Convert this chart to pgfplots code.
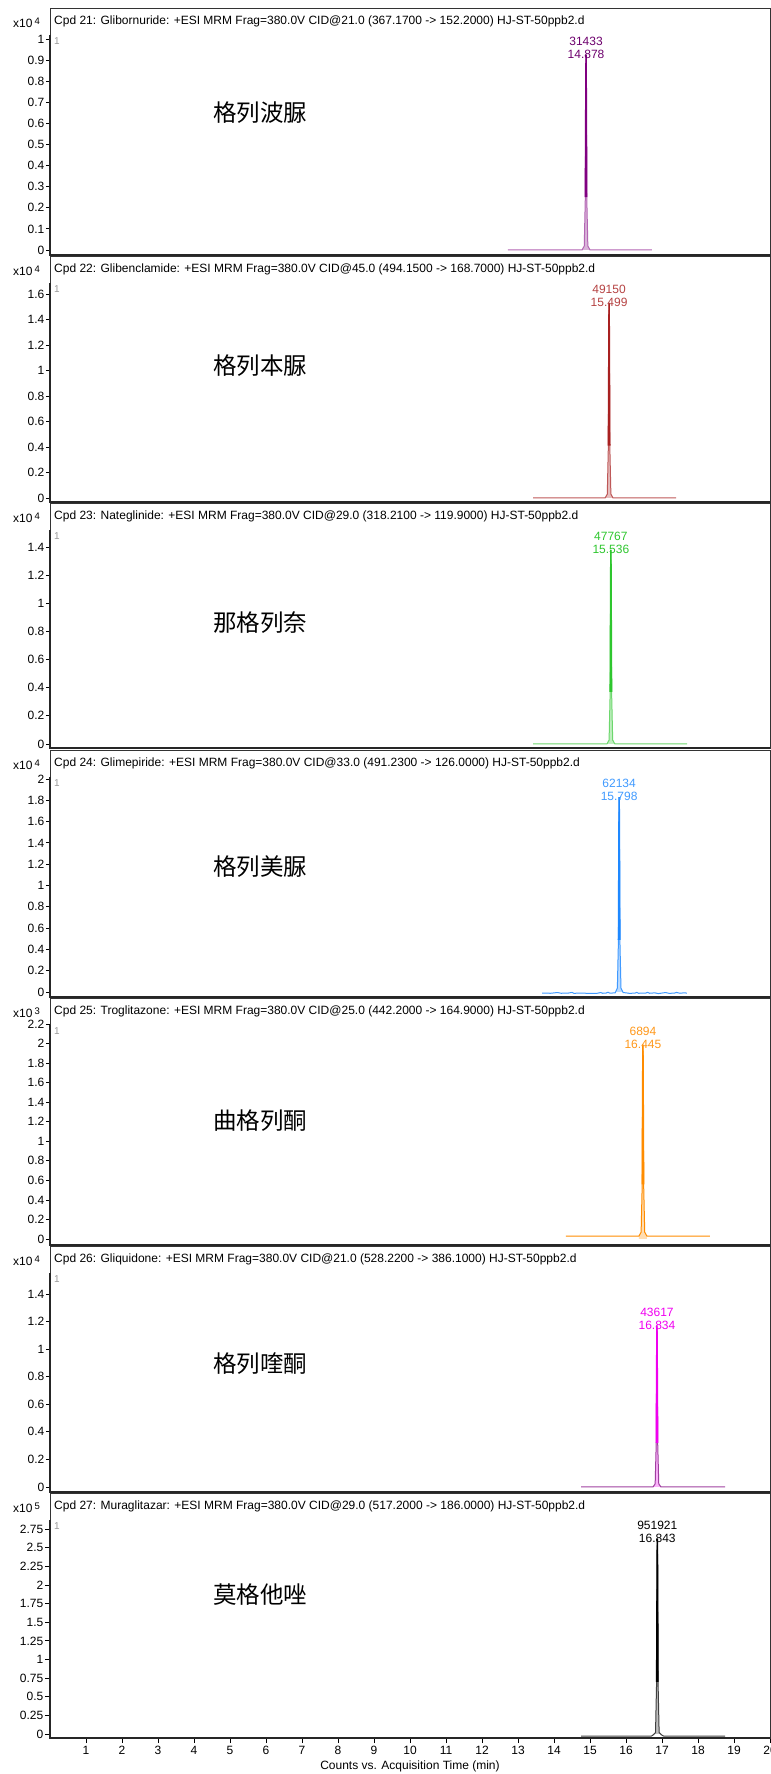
\documentclass[border=0pt]{standalone}
\usepackage{fontspec}
\setmainfont{Liberation Sans}
\newfontfamily\cjk{Noto Sans CJK SC}
\usepackage{pgfplots}
\pgfplotsset{compat=1.18}
\definecolor{c1}{HTML}{800080}
\definecolor{c2}{HTML}{A82020}
\definecolor{c3}{HTML}{2EC62E}
\definecolor{c4}{HTML}{1E88FF}
\definecolor{c5}{HTML}{FF8C00}
\definecolor{c6}{HTML}{F000F0}
\definecolor{c6b}{HTML}{A040A0}
\definecolor{c7}{HTML}{000000}
\newcommand\fs{\fontsize{12bp}{13bp}\selectfont}
\newcommand\cfs{\cjk\fontsize{23.5bp}{24bp}\selectfont}
\pgfplotsset{panel/.style={
  scale only axis, width=720bp, anchor=south west, xmin=0, xmax=20,
  xtick=\empty, tick align=outside, ytick pos=left, xtick pos=bottom,
  major tick length=4bp, axis line style={line width=0.7bp, black!80},
  tick style={line width=0.8bp, black},
  yticklabel style={font=\fs, inner xsep=1.5bp},
  /pgf/number format/assume math mode=true,
  clip mode=individual,
}}
\newcommand\decor[1]{%
  \draw[line width=1.8bp, black!85] ([yshift=-27bp]rel axis cs:0,1) -- (rel axis cs:0,0) -- (rel axis cs:1,0);
  \node[anchor=west, font=\fontsize{10bp}{10bp}\selectfont, text=black!40, inner sep=0] at ([xshift=4bp,yshift=-33bp]rel axis cs:0,1) {1};
  \node[anchor=east, font=\fs, inner sep=0] at ([xshift=-10bp,yshift=-15bp]rel axis cs:0,1) {x10\,\raisebox{3.5bp}{\fontsize{9.5bp}{9.5bp}\selectfont #1}};
}
\begin{document}
\begin{tikzpicture}
\useasboundingbox (0,0) rectangle (771bp,1774bp);

% ---------- Panel 1
\begin{axis}[panel, at={(50bp,1519bp)}, height=247bp, ymin=-0.0237, ymax=1.1469,
  ytick={0,0.1,0.2,0.3,0.4,0.5,0.6,0.7,0.8,0.9,1}]
\addplot[draw=none, fill=c1!30] coordinates {(14.78,0)(14.84,0.019)(14.87,0.25)(14.885,0.85)(14.89,0.925)(14.895,0.85)(14.91,0.25)(14.94,0.019)(15.00,0)} \closedcycle;
\addplot[c1!60, line width=1bp] coordinates {(12.72,0)(14.78,0)(14.84,0.019)(14.87,0.25)(14.885,0.85)(14.89,0.925)(14.895,0.85)(14.91,0.25)(14.94,0.019)(15.00,0)(16.72,0)};
\addplot[c1, line width=1.4bp] coordinates {(14.87,0.25)(14.885,0.85)(14.89,0.925)(14.895,0.85)(14.91,0.25)};
\node[font=\fs, text=c1!85!black, align=center, anchor=south, inner sep=0, yshift=-4bp] at (axis cs:14.89,0.925) {31433\\14.878};
\node[anchor=west, font=\fs, inner sep=0] at ([xshift=4bp,yshift=-13bp]rel axis cs:0,1) {Cpd 21: Glibornuride: +ESI MRM Frag=380.0V CID@21.0 (367.1700 -> 152.2000) HJ-ST-50ppb2.d};
\decor{4}
\end{axis}

% ---------- Panel 2
\begin{axis}[panel, at={(50bp,1272bp)}, height=246bp, ymin=-0.0314, ymax=1.898,
  ytick={0,0.2,0.4,0.6,0.8,1,1.2,1.4,1.6}]
\addplot[draw=none, fill=c2!30] coordinates {(15.42,0)(15.48,0.03)(15.51,0.41)(15.525,1.41)(15.53,1.53)(15.535,1.41)(15.55,0.41)(15.58,0.03)(15.64,0)} \closedcycle;
\addplot[c2!75, line width=1bp] coordinates {(13.42,0)(15.42,0)(15.48,0.03)(15.51,0.41)(15.525,1.41)(15.53,1.53)(15.535,1.41)(15.55,0.41)(15.58,0.03)(15.64,0)(17.39,0)};
\addplot[c2, line width=1.4bp] coordinates {(15.51,0.41)(15.525,1.41)(15.53,1.53)(15.535,1.41)(15.55,0.41)};
\node[font=\fs, text=c2!85, align=center, anchor=south, inner sep=0, yshift=-4bp] at (axis cs:15.53,1.53) {49150\\15.499};
\node[anchor=west, font=\fs, inner sep=0] at ([xshift=4bp,yshift=-13bp]rel axis cs:0,1) {Cpd 22: Glibenclamide: +ESI MRM Frag=380.0V CID@45.0 (494.1500 -> 168.7000) HJ-ST-50ppb2.d};
\decor{4}
\end{axis}

% ---------- Panel 3
\begin{axis}[panel, at={(50bp,1026bp)}, height=245bp, ymin=-0.0284, ymax=1.7129,
  ytick={0,0.2,0.4,0.6,0.8,1,1.2,1.4}]
\addplot[draw=none, fill=c3!30] coordinates {(15.47,0)(15.53,0.028)(15.56,0.37)(15.575,1.27)(15.58,1.38)(15.585,1.27)(15.60,0.37)(15.63,0.028)(15.69,0)} \closedcycle;
\addplot[c3!70, line width=1bp] coordinates {(13.42,0)(15.47,0)(15.53,0.028)(15.56,0.37)(15.575,1.27)(15.58,1.38)(15.585,1.27)(15.60,0.37)(15.63,0.028)(15.69,0)(17.70,0)};
\addplot[c3, line width=1.4bp] coordinates {(15.56,0.37)(15.575,1.27)(15.58,1.38)(15.585,1.27)(15.60,0.37)};
\node[font=\fs, text=c3, align=center, anchor=south, inner sep=0, yshift=-4bp] at (axis cs:15.58,1.38) {47767\\15.536};
\node[anchor=west, font=\fs, inner sep=0] at ([xshift=4bp,yshift=-13bp]rel axis cs:0,1) {Cpd 23: Nateglinide: +ESI MRM Frag=380.0V CID@29.0 (318.2100 -> 119.9000) HJ-ST-50ppb2.d};
\decor{4}
\end{axis}

% ---------- Panel 4
\begin{axis}[panel, at={(50bp,777bp)}, height=247bp, ymin=-0.0469, ymax=2.2723,
  ytick={0,0.2,0.4,0.6,0.8,1,1.2,1.4,1.6,1.8,2}]
\addplot[draw=none, fill=c4!30] coordinates {(15.70,-0.008)(15.76,0.037)(15.79,0.49)(15.805,1.68)(15.81,1.83)(15.815,1.68)(15.83,0.49)(15.86,0.037)(15.92,-0.005)} \closedcycle;
\addplot[c4!85, line width=1bp] coordinates {(13.67,-0.01)(13.9,-0.012)(14.1,-0.005)(14.2,-0.012)(14.4,-0.01)(14.5,-0.004)(14.55,-0.012)(14.8,-0.011)(15.0,-0.013)(15.2,-0.012)(15.3,-0.005)(15.35,-0.012)(15.45,-0.01)(15.5,-0.002)(15.55,-0.011)(15.70,-0.008)(15.76,0.037)(15.79,0.49)(15.805,1.68)(15.81,1.83)(15.815,1.68)(15.83,0.49)(15.86,0.037)(15.92,-0.005)(16.0,-0.008)(16.1,-0.013)(16.25,-0.01)(16.3,-0.004)(16.35,-0.012)(16.55,-0.01)(16.6,-0.003)(16.65,-0.012)(16.8,-0.008)(16.9,-0.015)(17.0,-0.01)(17.1,-0.005)(17.2,-0.013)(17.35,-0.01)(17.4,-0.004)(17.5,-0.012)(17.6,-0.008)(17.69,-0.01)};
\addplot[c4, line width=1.4bp] coordinates {(15.79,0.49)(15.805,1.68)(15.81,1.83)(15.815,1.68)(15.83,0.49)};
\node[font=\fs, text=c4!85, align=center, anchor=south, inner sep=0, yshift=-4bp] at (axis cs:15.81,1.83) {62134\\15.798};
\node[anchor=west, font=\fs, inner sep=0] at ([xshift=4bp,yshift=-13bp]rel axis cs:0,1) {Cpd 24: Glimepiride: +ESI MRM Frag=380.0V CID@33.0 (491.2300 -> 126.0000) HJ-ST-50ppb2.d};
\decor{4}
\end{axis}

% ---------- Panel 5
\begin{axis}[panel, at={(50bp,529bp)}, height=247bp, ymin=-0.0614, ymax=2.4667,
  ytick={0,0.2,0.4,0.6,0.8,1,1.2,1.4,1.6,1.8,2,2.2}]
\addplot[draw=none, fill=c5!30] coordinates {(16.36,0.03)(16.42,0.07)(16.45,0.56)(16.465,1.83)(16.47,1.99)(16.475,1.83)(16.49,0.56)(16.52,0.07)(16.58,0.03)} \closedcycle;
\addplot[c5, line width=1bp] coordinates {(14.33,0.03)(16.36,0.03)(16.42,0.07)(16.45,0.56)(16.465,1.83)(16.47,1.99)(16.475,1.83)(16.49,0.56)(16.52,0.07)(16.58,0.03)(18.33,0.03)};
\addplot[c5, line width=1.4bp] coordinates {(16.45,0.56)(16.465,1.83)(16.47,1.99)(16.475,1.83)(16.49,0.56)};
\node[font=\fs, text=c5!90, align=center, anchor=south, inner sep=0, yshift=-4bp] at (axis cs:16.47,1.99) {6894\\16.445};
\node[anchor=west, font=\fs, inner sep=0] at ([xshift=4bp,yshift=-13bp]rel axis cs:0,1) {Cpd 25: Troglitazone: +ESI MRM Frag=380.0V CID@25.0 (442.2000 -> 164.9000) HJ-ST-50ppb2.d};
\decor{3}
\end{axis}

% ---------- Panel 6
\begin{axis}[panel, at={(50bp,282bp)}, height=246bp, ymin=-0.0363, ymax=1.7476,
  ytick={0,0.2,0.4,0.6,0.8,1,1.2,1.4}]
\addplot[draw=none, fill=c6!30] coordinates {(16.75,0)(16.81,0.023)(16.84,0.32)(16.855,1.08)(16.86,1.17)(16.865,1.08)(16.88,0.32)(16.91,0.023)(16.97,0)} \closedcycle;
\addplot[c6b, line width=1bp] coordinates {(14.75,0)(16.75,0)(16.81,0.023)(16.84,0.32)(16.855,1.08)(16.86,1.17)(16.865,1.08)(16.88,0.32)(16.91,0.023)(16.97,0)(18.75,0)};
\addplot[c6, line width=1.4bp] coordinates {(16.84,0.32)(16.855,1.08)(16.86,1.17)(16.865,1.08)(16.88,0.32)};
\node[font=\fs, text=c6, align=center, anchor=south, inner sep=0, yshift=-4bp] at (axis cs:16.86,1.17) {43617\\16.834};
\node[anchor=west, font=\fs, inner sep=0] at ([xshift=4bp,yshift=-13bp]rel axis cs:0,1) {Cpd 26: Gliquidone: +ESI MRM Frag=380.0V CID@21.0 (528.2200 -> 386.1000) HJ-ST-50ppb2.d};
\decor{4}
\end{axis}

% ---------- Panel 7
\begin{axis}[panel, at={(50bp,36bp)}, height=245bp, ymin=-0.0537, ymax=3.2349,
  ytick={0,0.25,0.5,0.75,1,1.25,1.5,1.75,2,2.25,2.5,2.75},
  yticklabels={0,0.25,0.5,0.75,1,1.25,1.5,1.75,2,2.25,2.5,2.75},
  xtick={1,2,3,4,5,6,7,8,9,10,11,12,13,14,15,16,17,18,19,20},
  xticklabel style={font=\fs}, major tick length=5bp]
\addplot[draw=none, fill=black!25] coordinates {(16.76,-0.01)(16.82,0.02)(16.85,0.7)(16.865,2.41)(16.87,2.62)(16.875,2.41)(16.89,0.7)(16.92,0.02)(16.98,-0.01)} \closedcycle;
\addplot[black!75, line width=1bp] coordinates {(14.75,-0.03)(16.70,-0.03)(16.76,-0.01)(16.82,0.02)(16.85,0.7)(16.865,2.41)(16.87,2.62)(16.875,2.41)(16.89,0.7)(16.92,0.02)(16.98,-0.01)(17.05,-0.03)(18.75,-0.03)};
\addplot[c7, line width=1.4bp] coordinates {(16.85,0.7)(16.865,2.41)(16.87,2.62)(16.875,2.41)(16.89,0.7)};
\node[font=\fs, text=black, align=center, anchor=south, inner sep=0, yshift=-4bp] at (axis cs:16.87,2.62) {951921\\16.843};
\node[anchor=west, font=\fs, inner sep=0] at ([xshift=4bp,yshift=-13bp]rel axis cs:0,1) {Cpd 27: Muraglitazar: +ESI MRM Frag=380.0V CID@29.0 (517.2000 -> 186.0000) HJ-ST-50ppb2.d};
\decor{5}
\end{axis}

\node[font=\fs] at (410bp,8bp) {Counts vs. Acquisition Time (min)};

\node[font=\cfs] at (260bp,1661bp) {格列波脲};
\node[font=\cfs] at (260bp,1408bp) {格列本脲};
\node[font=\cfs] at (260bp,1151bp) {那格列奈};
\node[font=\cfs] at (260bp,907bp) {格列美脲};
\node[font=\cfs] at (260bp,653bp) {曲格列酮};
\node[font=\cfs] at (260bp,410bp) {格列喹酮};
\node[font=\cfs] at (260bp,179bp) {莫格他唑};
\end{tikzpicture}
\end{document}
